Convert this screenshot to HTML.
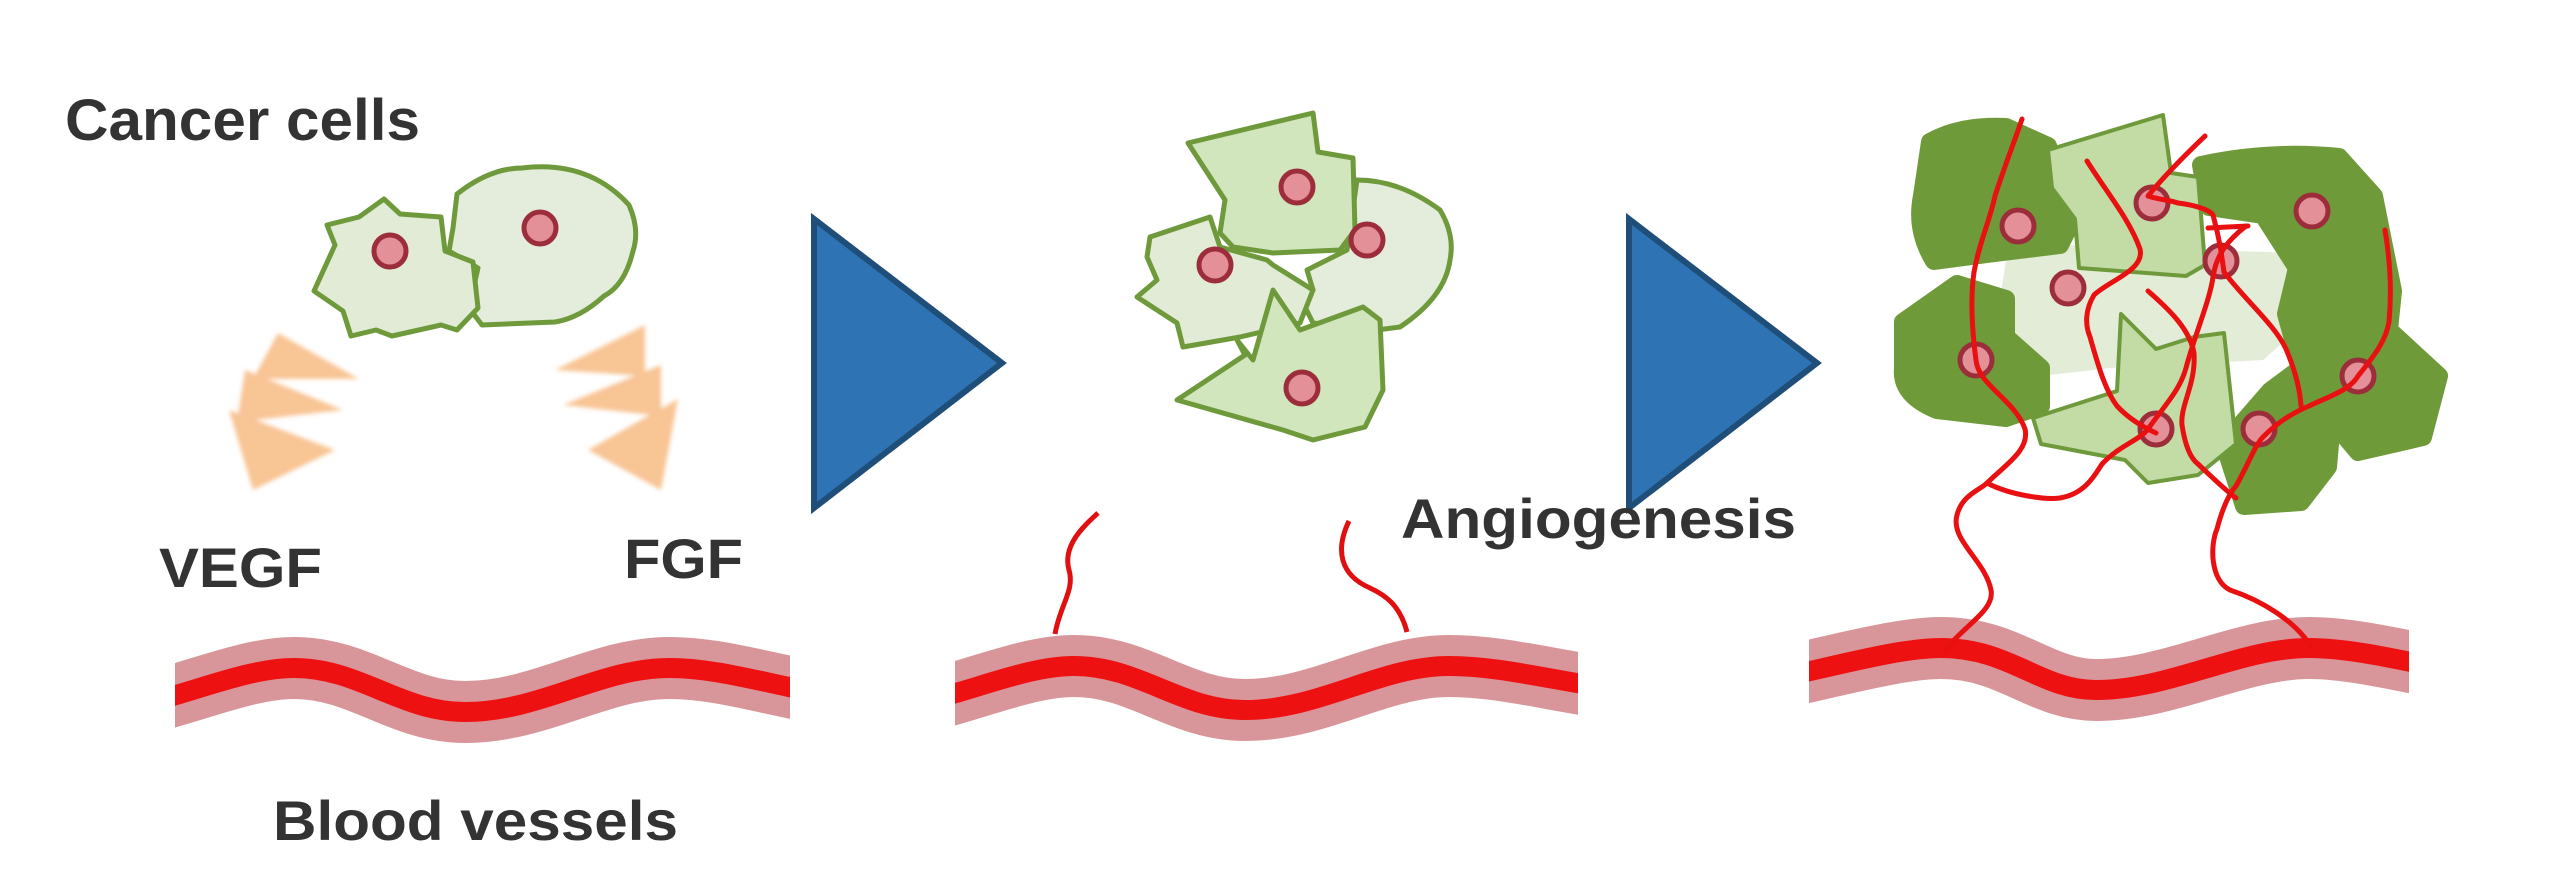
<!DOCTYPE html>
<html><head><meta charset="utf-8"><style>
html,body{margin:0;padding:0;background:#fff;}
svg{display:block;}
text{font-family:"Liberation Sans",sans-serif;font-weight:bold;fill:#333;}
</style></head><body>
<svg width="2560" height="889" viewBox="0 0 2560 889" xmlns="http://www.w3.org/2000/svg">
<defs>
<filter id="b" x="-20%" y="-20%" width="140%" height="140%"><feGaussianBlur stdDeviation="2"/></filter>
<clipPath id="c1"><rect x="175" y="560" width="615" height="250"/></clipPath>
<clipPath id="c2"><rect x="955" y="560" width="623" height="250"/></clipPath>
<clipPath id="c3"><rect x="1809" y="560" width="600" height="250"/></clipPath>
</defs>
<rect width="2560" height="889" fill="#fff"/>

<text x="65" y="140" font-size="58" textLength="355" lengthAdjust="spacingAndGlyphs">Cancer cells</text>
<text x="159" y="587" font-size="56" textLength="163" lengthAdjust="spacingAndGlyphs">VEGF</text>
<text x="624" y="578" font-size="56" textLength="119" lengthAdjust="spacingAndGlyphs">FGF</text>
<text x="273" y="840" font-size="56" textLength="405" lengthAdjust="spacingAndGlyphs">Blood vessels</text>

<g stroke="#6f9a3c" stroke-width="5" stroke-linejoin="round">
<path d="M457,194 Q490,168 522,168 Q588,160 629,205 Q640,230 633,251 Q625,285 604,296 Q580,318 555,322 L482,325 L469,308 L478,268 L449,251 L453,228 Z" fill="#e4ecdc"/>
<path d="M314,291 L335,245 L327,225 L359,217 L384,199 L400,214 L441,217 L445,251 L473,262 L478,308 L457,330 L441,325 L392,336 L376,330 L351,336 L343,311 Z" fill="#e2ebd6"/>
</g>
<circle cx="390" cy="251" r="16" fill="#e49098" stroke="#9c2d3a" stroke-width="5"/>
<circle cx="540" cy="228" r="16" fill="#e49098" stroke="#9c2d3a" stroke-width="5"/>

<g fill="#f8c595" filter="url(#b)">
<polygon points="278,333 359,379 253,379"/>
<polygon points="245,370 343,410 237,422"/>
<polygon points="229,410 335,450 253,490"/>
<polygon points="645,325 555,370 645,376"/>
<polygon points="661,365 563,405 661,416"/>
<polygon points="678,399 588,450 661,490"/>
</g>

<polygon points="814,219 814,508 1002,363" fill="#2e74b5" stroke="#1f4e79" stroke-width="6"/>
<polygon points="1629,219 1629,508 1817,363" fill="#2e74b5" stroke="#1f4e79" stroke-width="6"/>

<g fill="none">
<g clip-path="url(#c1)">
<path d="M140,705 C200,690 250,668 294,668 C360,668 400,712 465,712 C540,712 600,668 669,668 C720,668 770,685 830,695" stroke="#d8969a" stroke-width="62"/>
<path d="M140,705 C200,690 250,668 294,668 C360,668 400,712 465,712 C540,712 600,668 669,668 C720,668 770,685 830,695" stroke="#ee1111" stroke-width="20"/>
</g>
<g clip-path="url(#c2)">
<path d="M920,703 C980,688 1030,666 1074,666 C1140,666 1180,710 1245,710 C1320,710 1380,666 1449,666 C1500,666 1550,680 1620,690" stroke="#d8969a" stroke-width="62"/>
<path d="M920,703 C980,688 1030,666 1074,666 C1140,666 1180,710 1245,710 C1320,710 1380,666 1449,666 C1500,666 1550,680 1620,690" stroke="#ee1111" stroke-width="20"/>
</g>
<g clip-path="url(#c3)">
<path d="M1770,680 C1840,665 1900,648 1941,648 C2010,648 2040,690 2096,690 C2170,690 2240,648 2309,648 C2350,648 2400,660 2450,670" stroke="#d8969a" stroke-width="62"/>
<path d="M1770,680 C1840,665 1900,648 1941,648 C2010,648 2040,690 2096,690 C2170,690 2240,648 2309,648 C2350,648 2400,660 2450,670" stroke="#ee1111" stroke-width="20"/>
</g>
<path d="M1055,634 C1060,605 1075,590 1069,570 C1062,545 1085,525 1098,513" stroke="#e01010" stroke-width="5"/>
<path d="M1407,632 C1400,605 1385,595 1370,588 C1340,575 1335,550 1349,521" stroke="#e01010" stroke-width="5"/>
</g>

<g stroke="#6f9a3c" stroke-width="5" stroke-linejoin="round">
<path d="M1357,180 Q1400,180 1440,210 Q1455,235 1450,260 Q1445,297 1400,327 L1377,330 L1313,323 L1300,297 L1313,290 L1307,270 L1333,257 L1347,250 Z" fill="#e4ecdc"/>
<path d="M1150,237 L1210,217 L1220,247 L1267,260 L1273,265 L1313,290 L1300,323 L1240,337 L1183,347 L1177,323 L1137,297 L1157,280 L1147,257 Z" fill="#e2ebd6"/>
<path d="M1188,143 L1313,113 L1318,152 L1353,158 L1355,230 L1340,250 L1273,253 L1233,247 L1220,233 L1225,200 Z" fill="#d2e6be"/>
<path d="M1273,290 L1300,330 L1363,307 L1380,320 L1383,390 L1365,427 L1313,440 L1283,430 L1177,400 L1245,355 L1237,340 L1253,360 Z" fill="#d2e6be"/>
</g>
<g fill="#e49098" stroke="#9c2d3a" stroke-width="5">
<circle cx="1297" cy="187" r="16"/><circle cx="1367" cy="240" r="16"/><circle cx="1215" cy="265" r="16"/><circle cx="1302" cy="388" r="16"/>
</g>

<g stroke-linejoin="round">
<path d="M2006,261 L2064,245 L2293,253 L2297,330 L2263,360 L2110,368 L2041,376 L1995,330 Z" fill="#e2ecd6"/>
<g fill="#6f9a3a" stroke="#6f9a3a" stroke-width="18">
<path d="M1930,142 Q1960,125 2006,127 L2048,146 L2075,215 L2060,245 L1995,253 L1934,261 Q1915,230 1922,196 Z"/>
<path d="M1903,322 L1957,284 L2006,299 L2006,337 L2041,368 L2041,406 L2006,418 L1937,410 Q1900,395 1903,368 Z"/>
<path d="M2201,165 Q2270,150 2339,157 L2374,196 L2393,291 L2389,330 L2439,376 L2423,437 L2358,452 L2332,421 L2328,467 L2301,502 L2244,506 L2224,444 L2270,391 L2301,368 L2286,314 L2297,268 L2263,215 L2209,207 Z"/>
</g>
<path d="M2048,150 L2163,115 L2171,173 L2198,177 L2205,265 L2186,276 L2079,268 L2075,219 L2052,188 Z" fill="#c3dca6" stroke="#6f9a3c" stroke-width="4"/>
<path d="M2033,418 L2117,391 L2121,314 L2156,349 L2194,337 L2224,333 L2236,444 L2198,475 L2148,483 L2125,460 L2041,444 Z" fill="#c3dca6" stroke="#6f9a3c" stroke-width="4"/>
</g>
<g fill="#e49098" stroke="#9c2d3a" stroke-width="5">
<circle cx="2018" cy="226" r="16"/><circle cx="2152" cy="203" r="16"/><circle cx="2312" cy="211" r="16"/>
<circle cx="2068" cy="288" r="16"/><circle cx="2221" cy="261" r="16"/><circle cx="1976" cy="360" r="16"/>
<circle cx="2358" cy="376" r="16"/><circle cx="2156" cy="429" r="16"/><circle cx="2259" cy="429" r="16"/>
</g>
<g fill="none" stroke="#e81010" stroke-width="5" stroke-linecap="round" stroke-linejoin="round">
<path d="M1945,650 C1965,625 1995,610 1991,590 C1985,560 1950,540 1957,515 C1962,495 1980,490 1987,483 C2005,465 2030,450 2025,429 C2015,400 1978,385 1976,360 C1972,330 1970,300 1974,272 C1980,240 1990,220 1995,196 C2005,165 2015,140 2022,119"/>
<path d="M1987,483 C2010,495 2045,500 2060,498 C2085,494 2095,475 2102,464 C2120,445 2140,440 2148,429 C2165,405 2180,390 2186,368 C2194,337 2210,300 2213,277 C2216,255 2228,240 2246,226"/>
<path d="M2312,648 C2295,620 2260,600 2230,590 C2210,580 2210,545 2217,529 C2222,510 2228,495 2236,486 C2248,465 2255,445 2263,437 C2280,420 2295,412 2309,406 C2330,396 2350,390 2358,376 C2375,355 2386,340 2389,322 C2392,290 2390,260 2385,230"/>
<path d="M2087,161 C2105,190 2130,220 2140,249 C2145,270 2110,280 2094,295 C2085,310 2085,325 2090,337 C2098,365 2105,390 2117,406 C2130,420 2145,428 2156,433"/>
<path d="M2148,291 C2170,310 2190,330 2194,353 C2196,385 2180,405 2182,425 C2185,445 2190,458 2198,464 C2215,480 2225,490 2236,498"/>
<path d="M2205,136 C2185,155 2165,175 2148,196 C2160,200 2170,200 2178,203 C2195,205 2210,210 2213,215 C2220,240 2222,258 2224,272 C2245,300 2275,325 2286,349 C2295,370 2300,390 2301,406"/>
<path d="M2208,228 L2248,226"/>
</g>

<text x="1401" y="538" font-size="56" textLength="395" lengthAdjust="spacingAndGlyphs">Angiogenesis</text>
</svg>
</body></html>
